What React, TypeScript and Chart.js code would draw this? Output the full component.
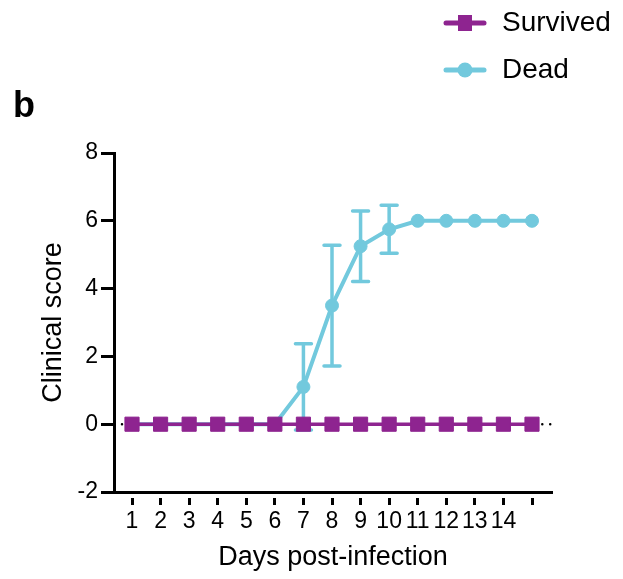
import React, { useEffect, useRef } from 'react';
import { Chart, registerables } from 'chart.js';

Chart.register(...registerables);

// ---- data ----
const days = [1, 2, 3, 4, 5, 6, 7, 8, 9, 10, 11, 12, 13, 14, 15];
const xTickLabels = ['1', '2', '3', '4', '5', '6', '7', '8', '9', '10', '11', '12', '13', '14', ''];
const yTicks = [-2, 0, 2, 4, 6, 8];
const survived = [0, 0, 0, 0, 0, 0, 0, 0, 0, 0, 0, 0, 0, 0, 0];
const dead = [0, 0, 0, 0, 0, 0, 1.1, 3.5, 5.25, 5.75, 6, 6, 6, 6, 6];
const deadSD = [0, 0, 0, 0, 0, 0, 1.27, 1.78, 1.04, 0.71, 0, 0, 0, 0, 0];
const seriesNames = ['Survived', 'Dead'];
const panelLabel = 'b';
const xTitle = 'Days post-infection';
const yTitle = 'Clinical score';

const MAGENTA = '#8E2490';
const CYAN = '#72C9DD';
const FONT = '"Liberation Sans", Arial, Helvetica, sans-serif';

const overlayPlugin = {
  id: 'overlay',
  beforeDatasetsDraw(chart: any) {
    const { ctx, chartArea, scales } = chart;
    const xs = scales.x;
    const ys = scales.y;
    ctx.save();
    // dotted baseline at y = 0
    const y0 = ys.getPixelForValue(0);
    ctx.strokeStyle = '#000';
    ctx.lineWidth = 2.5;
    ctx.lineCap = 'round';
    ctx.setLineDash([0, 7.93]);
    ctx.beginPath();
    ctx.moveTo(chartArea.left + 8, y0);
    ctx.lineTo(chartArea.right, y0);
    ctx.stroke();
    ctx.setLineDash([]);
    // error bars for Dead
    ctx.strokeStyle = CYAN;
    ctx.lineWidth = 3.5;
    ctx.lineCap = 'round';
    for (let i = 0; i < days.length; i++) {
      const sd = deadSD[i];
      if (!sd) continue;
      const x = xs.getPixelForValue(days[i]);
      const yt = ys.getPixelForValue(dead[i] + sd);
      const yb = ys.getPixelForValue(dead[i] - sd);
      ctx.beginPath();
      ctx.moveTo(x, yt);
      ctx.lineTo(x, yb);
      ctx.moveTo(x - 8, yt);
      ctx.lineTo(x + 8, yt);
      ctx.moveTo(x - 8, yb);
      ctx.lineTo(x + 8, yb);
      ctx.stroke();
    }
    ctx.restore();
  },
  afterDraw(chart: any) {
    const { ctx } = chart;
    ctx.save();
    // panel label
    ctx.fillStyle = '#000';
    ctx.font = `bold 36px ${FONT}`;
    ctx.textBaseline = 'middle';
    ctx.textAlign = 'left';
    ctx.fillText(panelLabel, 13, 107);
    // legend
    const lx0 = 446;
    const lx1 = 484;
    const mx = 465;
    const rows = [23, 70];
    // Survived
    ctx.strokeStyle = MAGENTA;
    ctx.lineWidth = 5;
    ctx.lineCap = 'round';
    ctx.beginPath();
    ctx.moveTo(lx0, rows[0]);
    ctx.lineTo(lx1, rows[0]);
    ctx.stroke();
    ctx.fillStyle = MAGENTA;
    ctx.fillRect(mx - 7, rows[0] - 8, 14, 16);
    // Dead
    ctx.strokeStyle = CYAN;
    ctx.beginPath();
    ctx.moveTo(lx0, rows[1]);
    ctx.lineTo(lx1, rows[1]);
    ctx.stroke();
    ctx.fillStyle = CYAN;
    ctx.beginPath();
    ctx.arc(mx, rows[1], 7.5, 0, Math.PI * 2);
    ctx.fill();
    ctx.fillStyle = '#000';
    ctx.font = `28px ${FONT}`;
    ctx.fillText(seriesNames[0], 502, rows[0]);
    ctx.fillText(seriesNames[1], 502, rows[1]);
    ctx.restore();
  },
};

export default function App() {
  const ref = useRef<HTMLCanvasElement>(null);
  useEffect(() => {
    if (!ref.current) return;
    const chart = new Chart(ref.current, {
      type: 'line',
      data: {
        datasets: [
          {
            label: seriesNames[0],
            data: days.map((d, i) => ({ x: d, y: survived[i] })),
            borderColor: MAGENTA,
            backgroundColor: MAGENTA,
            borderWidth: 3.5,
            pointStyle: 'rect',
            pointRadius: 10,
            pointBorderWidth: 1,
            pointBackgroundColor: MAGENTA,
            pointBorderColor: MAGENTA,
            tension: 0,
            order: 0,
          },
          {
            label: seriesNames[1],
            data: days.map((d, i) => ({ x: d, y: dead[i] })),
            borderColor: CYAN,
            backgroundColor: CYAN,
            borderWidth: 4,
            pointStyle: 'circle',
            pointRadius: 6.5,
            pointBorderWidth: 1,
            pointBackgroundColor: CYAN,
            pointBorderColor: CYAN,
            tension: 0,
            order: 1,
          },
        ],
      },
      options: {
        responsive: false,
        animation: false,
        layout: { padding: { top: 153, right: 71, bottom: 0, left: 0 } },
        plugins: { legend: { display: false }, tooltip: { enabled: false } },
        scales: {
          x: {
            type: 'linear',
            min: 0.37,
            max: 15.7,
            afterBuildTicks: (s: any) => {
              s.ticks = days.map((v) => ({ value: v }));
            },
            afterFit: (s: any) => {
              s.height = 87;
            },
            ticks: {
              callback: (_v: any, i: number) => xTickLabels[i],
              font: { size: 23, family: FONT },
              color: '#000',
              padding: 3,
              maxRotation: 0,
              autoSkip: false,
            },
            grid: {
              drawOnChartArea: false,
              drawTicks: true,
              tickLength: 13,
              tickWidth: 3,
              tickColor: '#000',
              tickBorderDash: [0, 4, 9, 100],
            },
            border: { display: true, color: '#000', width: 3 },
            title: {
              display: true,
              text: xTitle,
              font: { size: 27, family: FONT },
              color: '#000',
              padding: { top: 0, bottom: 5 },
            },
          },
          y: {
            type: 'linear',
            min: -2,
            max: 8,
            afterBuildTicks: (s: any) => {
              s.ticks = yTicks.map((v) => ({ value: v }));
            },
            afterFit: (s: any) => {
              s.width = 114;
            },
            ticks: {
              font: { size: 23, family: FONT },
              color: '#000',
              padding: 3,
            },
            grid: {
              drawOnChartArea: false,
              drawTicks: true,
              tickLength: 13,
              tickWidth: 3,
              tickColor: '#000',
            },
            border: { display: true, color: '#000', width: 3 },
            title: {
              display: true,
              text: yTitle,
              font: { size: 27, family: FONT },
              color: '#000',
              padding: { top: 37, bottom: 0 },
            },
          },
        },
      },
      plugins: [overlayPlugin],
    } as any);
    return () => chart.destroy();
  }, []);
  return (
    <div style={{ position: 'absolute', left: 0, top: 0, width: 623, height: 579 }}>
      <canvas ref={ref} width={623} height={579} />
    </div>
  );
}
